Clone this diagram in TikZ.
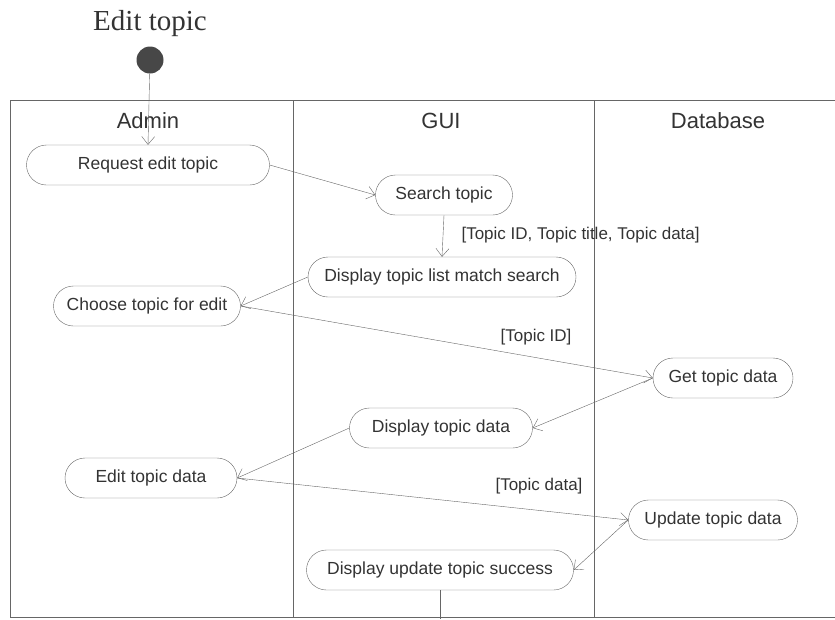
\documentclass[tikz,border=0pt]{standalone}
\usepackage{fontspec}
\setmainfont{Liberation Sans}
\newfontfamily\titlefont{Liberation Serif}
\usetikzlibrary{arrows.meta}
\definecolor{linegray}{gray}{0.4}
\definecolor{inkgray}{gray}{0.2}
\tikzset{
  act/.style={draw=linegray, rounded corners=20pt, minimum height=40pt, inner xsep=0pt,
    text=inkgray, font=\fontsize{17.5}{20}\selectfont},
  flow/.style={draw=linegray, -{Straight Barb[length=8pt,width=13pt]}},
  lane/.style={draw=linegray},
  guard/.style={text=inkgray, font=\fontsize{17}{20}\selectfont},
  lanehead/.style={text=inkgray, font=\fontsize{22}{24}\selectfont},
}
\begin{document}
\begin{tikzpicture}[x=1pt,y=-1pt]
\useasboundingbox (0,0) rectangle (835,619);
% title and start
\node[text=inkgray, font=\titlefont\fontsize{29}{32}\selectfont] (title) at (150,24) {Edit topic};
\node[circle, fill=black!72, minimum size=27pt, inner sep=0pt] (start) at (150,60) {};
% swimlanes
\draw[lane] (835,100) -- (10,100) -- (10,617) -- (835,617);
\draw[lane] (293,100) -- (293,617);
\draw[lane] (594,100) -- (594,617);
\node[lanehead] (admin) at (148,121) {Admin};
\node[lanehead] (gui) at (441,121) {GUI};
\node[lanehead] (db) at (718,121) {Database};
% activities
\node[act, minimum width=243pt] (req) at (148,165) {Request edit topic};
\node[act, minimum width=137pt] (search) at (444,195) {Search topic};
\node[act, minimum width=268pt] (list) at (442,277) {Display topic list match search};
\node[act, minimum width=187pt] (choose) at (147,306) {Choose topic for edit};
\node[act, minimum width=140pt] (get) at (723,378) {Get topic data};
\node[act, minimum width=183pt] (show) at (441,428) {Display topic data};
\node[act, minimum width=172pt] (edit) at (151,478) {Edit topic data};
\node[act, minimum width=169pt] (upd) at (713,520) {Update topic data};
\node[act, minimum width=267pt] (done) at (440,570) {Display update topic success};
\coordinate (out) at (440,619);
% flows
\draw[flow] (start) -- (req.north);
\draw[flow] (req.east) -- (search.west);
\draw[flow] (search.south) -- (list.north);
\draw[flow] (list.west) -- (choose.east);
\draw[flow] (choose.east) -- (get.west);
\draw[flow] (get.west) -- (show.east);
\draw[flow] (show.west) -- (edit.east);
\draw[flow] (edit.east) -- (upd.west);
\draw[flow] (upd.west) -- (done.east);
\draw[lane] (done.south) -- (out);
% guards
\node[guard, anchor=west] (g1) at (458,235) {[Topic ID, Topic title, Topic data]};
\node[guard, anchor=east] (g2) at (575,337) {[Topic ID]};
\node[guard, anchor=east] (g3) at (586,486) {[Topic data]};
\end{tikzpicture}
\end{document}
